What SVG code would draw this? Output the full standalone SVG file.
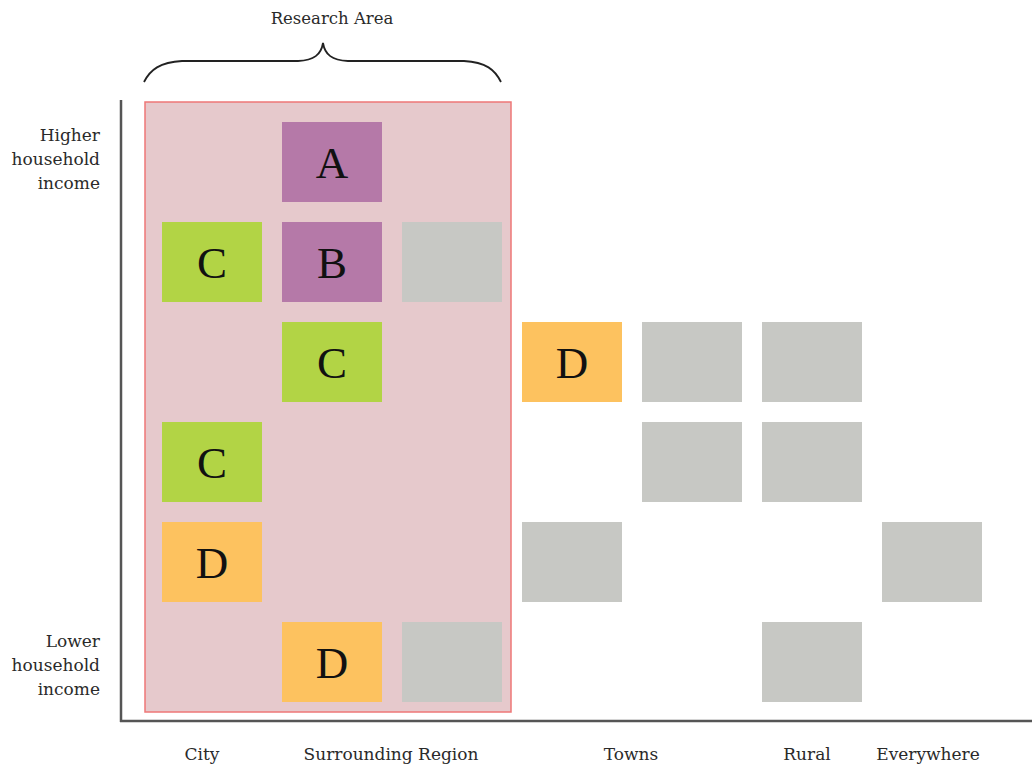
<svg xmlns="http://www.w3.org/2000/svg" width="1032" height="768" viewBox="0 0 1032 768">
<style>
.ylbl{font-family:"DejaVu Serif","Liberation Serif",serif;font-size:17px;fill:#2a2a2a;text-anchor:end}
.xlbl{font-family:"DejaVu Serif","Liberation Serif",serif;font-size:17px;fill:#2a2a2a;text-anchor:middle}
.let{font-family:"Liberation Serif","DejaVu Serif",serif;font-size:45px;fill:#111;text-anchor:middle}
.pur{fill:#b579a8}.grn{fill:#b2d445}.org{fill:#fdc25f}.gry{fill:#c7c8c4}
</style>
<rect width="1032" height="768" fill="#fff"/>
<text class="xlbl" x="332" y="24" style="font-size:16.5px">Research Area</text>
<path d="M144,82 C150,70 160,62 182,61 L298,61 C314,60 321,55 323,43 C325,55 332,60 348,61 L464,61 C486,62 495,70 501,82" fill="none" stroke="#222" stroke-width="1.8"/>
<g id="research-area"><rect x="145" y="102" width="366" height="610" fill="#e6c9cc" stroke="#ee7777" stroke-width="1.5"/></g>
<g id="axes" stroke="#555" stroke-width="2.5" fill="none">
<line x1="121" y1="100" x2="121" y2="722"/>
<line x1="120" y1="721" x2="1032" y2="721"/>
</g>
<g id="y-labels">
<text class="ylbl" x="100" y="141">Higher</text>
<text class="ylbl" x="100" y="165">household</text>
<text class="ylbl" x="100" y="189">income</text>
<text class="ylbl" x="100" y="647">Lower</text>
<text class="ylbl" x="100" y="671">household</text>
<text class="ylbl" x="100" y="695">income</text>
</g>
<g id="x-labels">
<text class="xlbl" x="202" y="760">City</text>
<text class="xlbl" x="391" y="760">Surrounding Region</text>
<text class="xlbl" x="631" y="760">Towns</text>
<text class="xlbl" x="807" y="760">Rural</text>
<text class="xlbl" x="928" y="760">Everywhere</text>
</g>
<g id="n-A"><rect class="pur" x="282" y="122" width="100" height="80"/><text class="let" x="332" y="178">A</text></g>
<g id="n-C1"><rect class="grn" x="162" y="222" width="100" height="80"/><text class="let" x="212" y="278">C</text></g>
<g id="n-B"><rect class="pur" x="282" y="222" width="100" height="80"/><text class="let" x="332" y="278">B</text></g>
<g id="n-g1"><rect class="gry" x="402" y="222" width="100" height="80"/></g>
<g id="n-C2"><rect class="grn" x="282" y="322" width="100" height="80"/><text class="let" x="332" y="378">C</text></g>
<g id="n-D1"><rect class="org" x="522" y="322" width="100" height="80"/><text class="let" x="572" y="378">D</text></g>
<g id="n-g2"><rect class="gry" x="642" y="322" width="100" height="80"/></g>
<g id="n-g3"><rect class="gry" x="762" y="322" width="100" height="80"/></g>
<g id="n-C3"><rect class="grn" x="162" y="422" width="100" height="80"/><text class="let" x="212" y="478">C</text></g>
<g id="n-g4"><rect class="gry" x="642" y="422" width="100" height="80"/></g>
<g id="n-g5"><rect class="gry" x="762" y="422" width="100" height="80"/></g>
<g id="n-D2"><rect class="org" x="162" y="522" width="100" height="80"/><text class="let" x="212" y="578">D</text></g>
<g id="n-g6"><rect class="gry" x="522" y="522" width="100" height="80"/></g>
<g id="n-g7"><rect class="gry" x="882" y="522" width="100" height="80"/></g>
<g id="n-D3"><rect class="org" x="282" y="622" width="100" height="80"/><text class="let" x="332" y="678">D</text></g>
<g id="n-g8"><rect class="gry" x="402" y="622" width="100" height="80"/></g>
<g id="n-g9"><rect class="gry" x="762" y="622" width="100" height="80"/></g>
<g id="connectors"></g>
</svg>
